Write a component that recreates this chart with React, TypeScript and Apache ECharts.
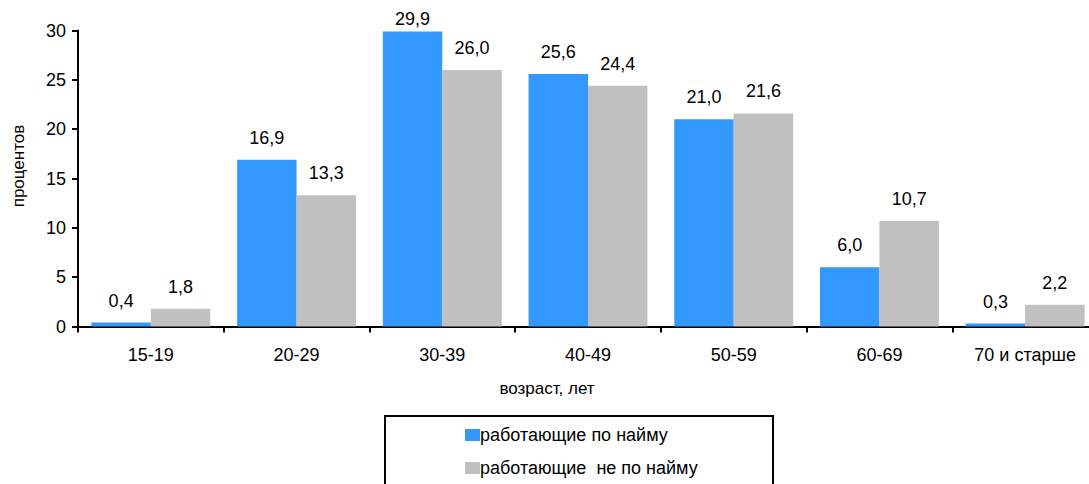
import React, { useEffect, useRef } from "react";
import * as echarts from "echarts";

const categories = ["15-19", "20-29", "30-39", "40-49", "50-59", "60-69", "70 и старше"];
const hired = [0.4, 16.9, 29.9, 25.6, 21.0, 6.0, 0.3];
const selfEmployed = [1.8, 13.3, 26.0, 24.4, 21.6, 10.7, 2.2];
const seriesNames = ["работающие по найму", "работающие  не по найму"];
const yTicks = [0, 5, 10, 15, 20, 25, 30];

const FONT = "Liberation Sans, Arial, sans-serif";
const fmt = (v: number) => v.toFixed(1).replace(".", ",");

export default function App() {
  const ref = useRef<HTMLDivElement>(null);
  useEffect(() => {
    document.body.style.margin = "0";
    document.body.style.overflow = "hidden";
    const chart = echarts.init(ref.current!, null, { renderer: "svg" });
    const labelCommon = {
      show: true,
      position: "top" as const,
      distance: 13,
      color: "#000",
      fontFamily: FONT,
      fontSize: 18,
      formatter: (p: any) => fmt(p.value as number),
    };
    const legendCommon = {
      orient: "horizontal" as const,
      left: 460,
      itemWidth: 15,
      itemHeight: 12,
      icon: "rect",
      textStyle: { color: "#000", fontSize: 18, fontFamily: FONT, padding: [0, 0, 0, -5] },
    };
    chart.setOption({
      animation: false,
      backgroundColor: "#fff",
      textStyle: { fontFamily: FONT },
      grid: { left: 78, top: 30.5, width: 1020, height: 296, containLabel: false },
      xAxis: {
        type: "category",
        data: categories,
        axisLine: { lineStyle: { color: "#000", width: 2 } },
        axisTick: { show: true, length: 6, lineStyle: { color: "#000", width: 2 } },
        axisLabel: { color: "#000", fontSize: 18, fontFamily: FONT, margin: 19, interval: 0 },
      },
      yAxis: {
        type: "value",
        min: yTicks[0],
        max: yTicks[yTicks.length - 1],
        interval: 5,
        axisLine: { show: true, lineStyle: { color: "#000", width: 2 } },
        axisTick: { show: true, length: 6, lineStyle: { color: "#000", width: 2 } },
        axisLabel: { color: "#000", fontSize: 18, fontFamily: FONT, margin: 12 },
        splitLine: { show: false },
      },
      legend: [
        { ...legendCommon, top: 421, data: [seriesNames[0]] },
        { ...legendCommon, top: 454, data: [seriesNames[1]] },
      ],
      graphic: [
        {
          type: "rect",
          shape: { x: 385, y: 416, width: 388, height: 80 },
          style: { fill: "none", stroke: "#000", lineWidth: 2 },
          z: 0,
        },
        {
          type: "text",
          x: 547,
          y: 388,
          style: {
            text: "возраст, лет",
            fill: "#000",
            fontSize: 17,
            fontFamily: FONT,
            textAlign: "center",
            textVerticalAlign: "middle",
          },
        },
        {
          type: "text",
          x: 18,
          y: 166,
          rotation: Math.PI / 2,
          style: {
            text: "процентов",
            fill: "#000",
            fontSize: 17,
            fontFamily: FONT,
            textAlign: "center",
            textVerticalAlign: "middle",
          },
        },
      ],
      series: [
        {
          name: seriesNames[0],
          type: "bar",
          data: hired.map((v, i) =>
            i === 2 ? { value: v, label: { distance: 3 } } : v
          ),
          barGap: "0%",
          barCategoryGap: "18.4%",
          itemStyle: { color: "#3399FF" },
          label: labelCommon,
        },
        {
          name: seriesNames[1],
          type: "bar",
          data: selfEmployed,
          itemStyle: { color: "#C0C0C0" },
          label: labelCommon,
        },
      ],
    });
    return () => chart.dispose();
  }, []);
  return (
    <div style={{ width: 1089, height: 484, overflow: "hidden" }}>
      <div ref={ref} style={{ width: 1100, height: 484 }} />
    </div>
  );
}
